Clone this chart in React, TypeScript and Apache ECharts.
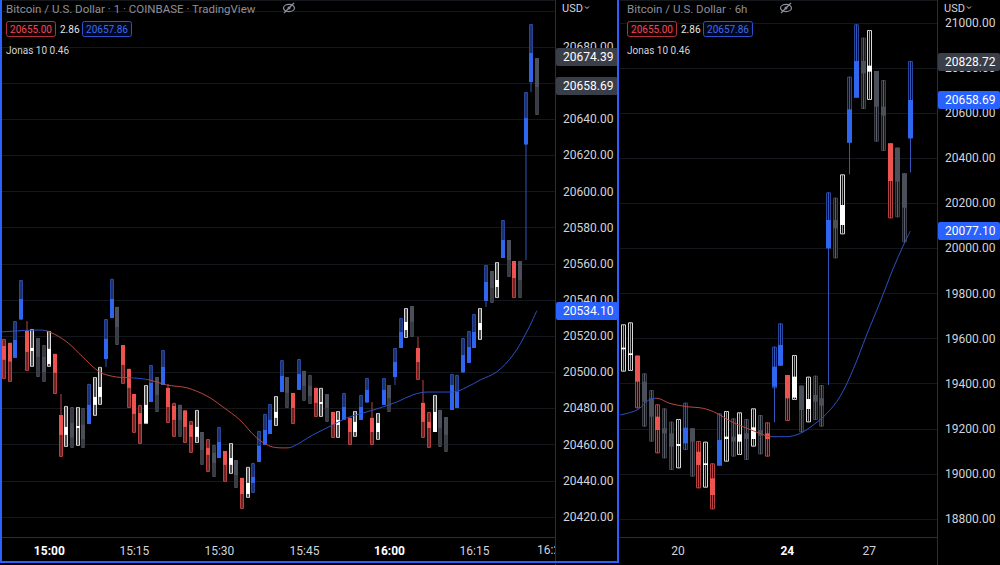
import React, { useEffect, useRef } from "react";
import * as echarts from "echarts";

// ---------------- data ----------------
// Left panel: 1-minute candles, first candle at 14:52 (minute of day 892)
const leftStartMinute = 892;
// [open, close, low, high]  (box = low..high, filled body = open..close)
const leftCandles: number[][] = [
  [20514.6, 20506.9, 20496.3, 20518.5], [20516.3, 20506.0, 20494.7, 20516.3], [20517.9, 20508.0, 20508.0, 20528.4],
  [20540.6, 20529.5, 20529.0, 20551.1], [20522.9, 20511.3, 20500.8, 20523.4], [20513.5, 20511.8, 20503.0, 20524.0],
  [20519.0, 20508.5, 20497.4, 20519.0], [20508.5, 20500.2, 20494.7, 20515.1], [20513.0, 20504.6, 20503.0, 20522.9],
  [20510.2, 20499.7, 20488.0, 20510.2], [20476.4, 20465.4, 20453.2, 20476.4], [20469.8, 20465.4, 20458.7, 20481.4],
  [20472.0, 20464.0, 20458.2, 20480.8], [20470.3, 20469.2, 20459.3, 20480.8], [20471.0, 20463.0, 20458.2, 20480.3],
  [20482.0, 20471.4, 20471.4, 20493.6], [20486.4, 20482.0, 20475.9, 20497.4], [20491.9, 20486.4, 20482.0, 20503.0],
  [20518.5, 20507.4, 20507.4, 20529.5], [20540.6, 20530.1, 20530.1, 20551.7], [20536.2, 20525.1, 20515.1, 20536.2],
  [20515.1, 20504.1, 20493.6, 20515.1], [20501.9, 20491.4, 20480.3, 20501.9], [20488.0, 20477.0, 20466.5, 20488.0],
  [20477.5, 20471.4, 20460.4, 20482.0], [20482.0, 20472.0, 20471.4, 20493.0], [20494.1, 20483.6, 20483.6, 20504.1],
  [20497.4, 20487.5, 20478.1, 20497.4], [20503.0, 20493.0, 20493.0, 20512.4], [20491.4, 20480.8, 20472.0, 20491.4],
  [20481.4, 20473.7, 20464.3, 20483.1], [20482.0, 20473.7, 20464.3, 20482.0], [20478.6, 20469.8, 20460.9, 20479.2],
  [20470.9, 20464.3, 20455.4, 20473.1], [20469.8, 20464.3, 20460.9, 20479.2], [20467.0, 20457.0, 20448.8, 20467.0],
  [20458.2, 20454.3, 20444.9, 20463.1], [20455.4, 20449.9, 20442.1, 20459.8], [20461.5, 20452.6, 20452.6, 20469.8],
  [20456.5, 20448.8, 20439.4, 20456.5], [20452.6, 20448.8, 20443.8, 20460.9], [20451.5, 20443.2, 20436.0, 20451.5],
  [20441.6, 20432.7, 20424.4, 20441.6], [20438.8, 20432.7, 20430.5, 20447.7], [20442.1, 20438.8, 20433.3, 20449.9],
  [20459.3, 20450.4, 20450.4, 20467.6], [20468.1, 20459.8, 20459.8, 20477.0], [20473.7, 20465.9, 20465.9, 20482.5],
  [20478.1, 20474.8, 20470.3, 20486.9], [20498.0, 20489.1, 20489.1, 20506.8], [20497.4, 20488.6, 20480.3, 20497.4],
  [20488.6, 20480.3, 20471.4, 20488.6], [20499.1, 20490.3, 20490.3, 20507.4], [20500.8, 20492.5, 20484.2, 20500.8],
  [20492.5, 20487.0, 20482.5, 20498.6], [20491.4, 20483.1, 20475.3, 20491.4], [20483.6, 20482.5, 20475.3, 20491.4],
  [20488.0, 20480.3, 20472.6, 20488.0], [20478.1, 20470.9, 20463.7, 20478.1], [20473.7, 20470.9, 20463.7, 20478.6],
  [20480.8, 20473.7, 20473.7, 20488.6], [20474.8, 20467.0, 20459.8, 20474.8], [20472.6, 20467.0, 20464.3, 20478.6],
  [20480.8, 20473.7, 20473.7, 20487.5], [20490.3, 20483.6, 20483.1, 20496.9], [20474.8, 20467.0, 20459.8, 20474.8],
  [20472.0, 20467.0, 20462.6, 20477.5], [20490.3, 20482.0, 20482.0, 20496.9], [20493.0, 20485.8, 20478.1, 20493.0],
  [20505.7, 20497.4, 20497.4, 20513.5], [20522.3, 20513.5, 20513.5, 20530.1], [20527.9, 20523.4, 20519.0, 20535.6],
  [20536.7, 20527.9, 20519.6, 20536.7], [20513.5, 20505.7, 20495.8, 20513.5], [20483.1, 20472.6, 20463.7, 20483.1],
  [20472.6, 20469.2, 20458.2, 20478.1], [20478.1, 20467.0, 20467.0, 20487.5], [20479.2, 20469.2, 20458.7, 20479.2],
  [20475.3, 20465.4, 20456.0, 20475.3], [20493.0, 20479.2, 20479.2, 20499.1], [20489.1, 20480.3, 20480.3, 20498.6],
  [20509.6, 20500.2, 20499.7, 20519.0], [20514.0, 20505.2, 20505.2, 20522.9], [20522.3, 20513.5, 20513.5, 20532.3],
  [20527.3, 20523.4, 20517.9, 20535.6], [20550.0, 20539.5, 20539.5, 20559.4], [20556.1, 20546.7, 20538.4, 20556.1],
  [20551.1, 20547.2, 20541.1, 20561.0], [20573.2, 20563.3, 20563.3, 20584.3], [20573.2, 20562.2, 20552.8, 20573.2],
  [20561.6, 20552.2, 20541.1, 20561.6], [20561.6, 20551.1, 20541.1, 20561.6], [20640.7, 20626.3, 20625.8, 20655.1],
  [20676.7, 20660.6, 20660.6, 20692.7], [20673.9, 20657.9, 20642.4, 20673.9],
];
const leftKinds = ("rrbbrwggwr" + "rwgwgbwwbb" + "grrrrwbgbr" + "rgrrwgrgbr" + "wgrwbbbbwb" +
  "grbggrwgrw" + "brwbbrwbgb" + "bwgrrrwggb" + "bbbbwbgwbg" + "rgbbg").split("");
// [candle index, wick tip price outside the box]
const leftWickTips: number[][] = [
  [4, 20528.4], [10, 20488.0], [18, 20503.0], [29, 20493.6], [65, 20483.6], [69, 20493.0],
  [73, 20519.6], [74, 20495.8], [85, 20536.2], [92, 20562.2], [93, 20655.1],
];
const leftMaMinutes = [891.3, 898.35, 900.1, 903.1, 905.9, 908.9, 911.9, 914.8, 917.7, 920.7, 924.3, 927.8, 930.6,
  933.6, 936.6, 939.4, 941.6, 942.8, 946.5, 950, 952.5, 955.3, 958.3, 961.3, 964.1, 966.6, 968.9, 971.2, 973.7, 976,
  978.9, 981.8, 984.2, 986];
const leftMaValues = [20522.3, 20523.4, 20522.3, 20516.8, 20508.5, 20500.2, 20497.4, 20496.9, 20495.8, 20493.0,
  20491.4, 20486.9, 20480.9, 20473.7, 20463.7, 20458.7, 20458.2, 20458.7, 20465.4, 20470.9, 20474.8, 20477.5,
  20480.3, 20483.6, 20487.5, 20489.1, 20489.1, 20489.1, 20491.9, 20495.8, 20500.2, 20509.6, 20522.3, 20534.1];
const leftMaFalling = [[899.5, 914], [917.5, 942.5]];
const leftTimeTicks = [900, 915, 930, 945, 960, 975];
const leftTimeLabels = ["15:00", "15:15", "15:30", "15:45", "16:00", "16:15"];
const leftBoldLabels = ["15:00", "16:00"];
const leftCutLabel = "16:2";
const leftHiddenPrices = [20700, 20660];
const leftPriceTags = [
  { value: 20674.39, tone: "gray" },
  { value: 20658.69, tone: "gray" },
  { value: 20534.1, tone: "blue" },
];

// Right panel: 6-hour candles, first candle on day 18 00:00
const rightStartDay = 18;
const rightStep = 0.25;
const rightCandles: number[][] = [
  [19560.0, 19552.6, 19453.5, 19663.5], [19534.8, 19527.4, 19456.5, 19672.3], [19524.5, 19409.1, 19290.9, 19524.5],
  [19409.1, 19320.4, 19209.5, 19446.1], [19335.2, 19253.9, 19143.0, 19372.2], [19253.9, 19194.8, 19091.3, 19308.6],
  [19202.2, 19180.0, 19069.1, 19290.9], [19180.0, 19120.8, 19017.3, 19231.7], [19132.7, 19123.8, 19024.7, 19243.5],
  [19205.1, 19135.6, 19106.1, 19316.0], [19202.2, 19143.0, 18987.8, 19202.2], [19098.7, 19039.5, 18936.0, 19146.0],
  [19046.9, 19039.5, 18938.9, 19143.0], [18980.4, 18906.5, 18842.9, 19046.9], [19150.4, 19036.6, 19036.6, 19268.7],
  [19165.2, 19154.8, 19054.3, 19279.0], [19165.2, 19143.0, 19076.5, 19246.5], [19175.5, 19143.0, 19083.9, 19273.1],
  [19180.0, 19154.8, 19061.7, 19243.5], [19206.6, 19154.8, 19120.8, 19290.9], [19194.8, 19169.6, 19086.8, 19261.3],
  [19180.0, 19154.8, 19076.5, 19228.8], [19475.7, 19387.0, 19379.6, 19564.4], [19571.8, 19480.1, 19480.1, 19667.9],
  [19438.7, 19335.2, 19234.7, 19438.7], [19431.3, 19338.2, 19327.8, 19527.4], [19391.4, 19283.5, 19184.4, 19391.4],
  [19332.3, 19287.9, 19228.8, 19431.3], [19350.0, 19320.4, 19239.1, 19435.8], [19335.2, 19302.7, 19209.5, 19394.4],
  [20126.2, 20000.5, 20000.5, 20248.9], [20126.2, 20089.3, 19956.2, 20225.3], [20192.8, 20104.0, 20062.6, 20328.8],
  [20617.1, 20469.2, 20469.2, 20762.0], [20831.5, 20668.8, 20668.8, 20994.1], [20831.5, 20776.8, 20618.6, 20935.0],
  [20810.8, 20784.2, 20658.5, 20969.0], [20787.1, 20628.9, 20473.7, 20787.1], [20628.9, 20589.0, 20432.3, 20747.2],
  [20466.3, 20299.2, 20133.6, 20466.3], [20447.1, 20296.2, 20138.1, 20447.1], [20333.2, 20180.9, 20027.2, 20333.2],
  [20658.5, 20488.5, 20488.5, 20831.5],
];
const rightKinds = ("wwrggrggwb" + "grwrbwgwgw" + "grbbrwgwgg" + "bgwbbgwggr" + "ggb").split("");
const rightWickTips: number[][] = [[22, 19228.8], [30, 19394.4], [33, 20328.8], [42, 20337.6]];
const rightMaDays = [17.88, 18.5, 19.1, 19.225, 19.7, 20.325, 20.925, 21.425, 21.9, 22.525, 23, 23.375, 23.975,
  24.475, 24.95, 25.45, 25.925, 26.425, 26.9, 27.4, 27.875, 28.25, 28.5];
const rightMaValues = [19261.3, 19283.5, 19335.2, 19335.2, 19313.0, 19298.3, 19290.9, 19268.7, 19234.7, 19202.2,
  19180.0, 19165.2, 19165.2, 19180.0, 19217.0, 19268.7, 19342.6, 19468.3, 19616.1, 19764.0, 19911.8, 20015.3, 20077.1];
const rightMaFalling = [[19.2, 23.4]];
const rightDayTicks = [20, 24, 27];
const rightDayLabels = ["20", "24", "27"];
const rightBoldLabels = ["24"];
const rightHiddenPrices: number[] = [];
const rightPriceTags = [
  { value: 20828.72, tone: "gray" },
  { value: 20658.69, tone: "blue" },
  { value: 20077.1, tone: "blue" },
];

// ---------------- styling ----------------
const FONT = "Roboto, 'Noto Sans', sans-serif";
const PALETTE: Record<string, { body: string; outline: string; inner: string; wick: string }> = {
  b: { body: "#2f66f0", outline: "#27469a", inner: "#070f26", wick: "#3356b8" },
  r: { body: "#ef5350", outline: "#b63f3f", inner: "#220808", wick: "#b84545" },
  w: { body: "#ffffff", outline: "#d9d9d9", inner: "#040404", wick: "#9a9a9a" },
  g: { body: "#4b4f59", outline: "#3b3e46", inner: "#16181c", wick: "#5b5f69" },
};
const MA_RED = "#b9453e";
const MA_BLUE = "#2a4fc6";
const TAG = { gray: "#3a3e48", blue: "#2962ff" };

function buildCandleData(candles: number[][], tips: number[][], xOf: (i: number) => number) {
  return candles.map((c, i) => {
    let wl = c[2];
    let wh = c[3];
    tips.forEach(([j, p]) => {
      if (j === i) {
        wl = Math.min(wl, p);
        wh = Math.max(wh, p);
      }
    });
    return [xOf(i), c[0], c[1], c[2], c[3], wl, wh];
  });
}

function makeRender(kinds: string[], unit: number, ratio: number) {
  return (params: any, api: any) => {
    const k = PALETTE[kinds[params.dataIndex]] || PALETTE.g;
    const x = api.value(0);
    const pHi = api.coord([x, api.value(4)]);
    const yLo = api.coord([x, api.value(3)])[1];
    const yO = api.coord([x, api.value(1)])[1];
    const yC = api.coord([x, api.value(2)])[1];
    const yWl = api.coord([x, api.value(5)])[1];
    const yWh = api.coord([x, api.value(6)])[1];
    const cx = Math.round(pHi[0]);
    const w = Math.max(3, Math.round(api.size([unit, 0])[0] * ratio));
    const left = cx - Math.floor(w / 2);
    const bTop = Math.min(yO, yC);
    const bBot = Math.max(yO, yC);
    return {
      type: "group",
      children: [
        {
          type: "rect",
          shape: { x: left + 0.5, y: pHi[1] + 0.5, width: w - 1, height: Math.max(1, yLo - pHi[1] - 1) },
          style: { fill: k.inner, stroke: k.outline, lineWidth: 1 },
        },
        {
          type: "line",
          shape: { x1: left + w / 2, y1: yWh, x2: left + w / 2, y2: yWl },
          style: { stroke: k.wick, lineWidth: 1 },
        },
        {
          type: "rect",
          shape: { x: left, y: bTop, width: w, height: Math.max(1.5, bBot - bTop) },
          style: { fill: k.body },
        },
      ],
    };
  };
}

function eyeIcon(x: number, y: number) {
  return {
    type: "group",
    x,
    y,
    z: 100,
    children: [
      { type: "ellipse", shape: { cx: 0, cy: 0, rx: 5.5, ry: 3.6 }, style: { fill: "none", stroke: "#8c8f99", lineWidth: 1.2 } },
      { type: "circle", shape: { cx: 0, cy: 0, r: 1.5 }, style: { fill: "#8c8f99" } },
      { type: "line", shape: { x1: -5, y1: 5, x2: 5, y2: -5 }, style: { stroke: "#8c8f99", lineWidth: 1.2 } },
    ],
  };
}

function headerEls(x0: number, title: string, eyeX: number, usdX: number) {
  const t = (x: number, y: number, text: string, fill: string, size: number, extra: any = {}) => ({
    type: "text",
    x,
    y,
    z: 100,
    style: { text, fill, font: `${extra.weight || "normal"} ${size}px ${FONT}`, verticalAlign: "middle", align: extra.align || "left" },
  });
  return [
    t(x0, 9, title, "#8c8f99", 11.5),
    eyeIcon(eyeX, 8),
    { type: "rect", z: 100, shape: { x: x0 + 0.5, y: 21.5, width: 49, height: 15, r: 2 }, style: { fill: "#0c0405", stroke: "#b3303d", lineWidth: 1 } },
    t(x0 + 25, 29, "20655.00", "#f0475a", 10, { align: "center" }),
    t(x0 + 54, 29, "2.86", "#e6e6e6", 10),
    { type: "rect", z: 100, shape: { x: x0 + 76.5, y: 21.5, width: 49, height: 15, r: 2 }, style: { fill: "#03071a", stroke: "#2a52cf", lineWidth: 1 } },
    t(x0 + 101, 29, "20657.86", "#3a6cf4", 10, { align: "center" }),
    t(x0, 50, "Jonas 10 0.46", "#d1d4dc", 10),
    t(usdX, 8, "USD", "#d1d4dc", 11),
    {
      type: "polyline",
      z: 100,
      shape: { points: [[usdX + 23, 6.5], [usdX + 25, 8.5], [usdX + 27, 6.5]] },
      style: { stroke: "#d1d4dc", lineWidth: 1, fill: "none" },
    },
  ];
}

export default function App() {
  const ref = useRef<HTMLDivElement>(null);

  useEffect(() => {
    if (!ref.current) return;
    const chart = echarts.init(ref.current, null, { renderer: "svg", width: 1000, height: 565 });

    const leftData = buildCandleData(leftCandles, leftWickTips, (i) => leftStartMinute + i);
    const rightData = buildCandleData(rightCandles, rightWickTips, (i) => rightStartDay + i * rightStep);
    const leftMa = leftMaMinutes.map((m, i) => [m, leftMaValues[i]]);
    const rightMa = rightMaDays.map((d, i) => [d, rightMaValues[i]]);

    const pieces = (ranges: number[][]) => {
      const out: any[] = [];
      let prev = -Infinity;
      ranges.forEach(([a, b]) => {
        out.push({ gte: prev, lt: a, color: MA_BLUE });
        out.push({ gte: a, lt: b, color: MA_RED });
        prev = b;
      });
      out.push({ gte: prev, color: MA_BLUE });
      out[0] = { lt: ranges[0][0], color: MA_BLUE };
      return out;
    };

    const splitLine = { show: true, lineStyle: { color: "#14171c", width: 1 } };
    const yLabel = (hidden: number[]) => ({
      color: "#d1d4dc",
      fontSize: 12,
      fontFamily: FONT,
      margin: 8,
      showMinLabel: false,
      showMaxLabel: false,
      formatter: (v: number) => (hidden.some((h) => Math.abs(h - v) < 1e-6) ? "" : v.toFixed(2)),
    });
    const timeLabel = (ticks: number[], labels: string[], bold: string[]) => ({
      color: "#d1d4dc",
      fontSize: 12,
      fontFamily: FONT,
      margin: 8,
      customValues: ticks,
      formatter: (v: number) => {
        const idx = ticks.findIndex((t) => Math.abs(t - v) < 1e-6);
        const s = idx >= 0 ? labels[idx] : "";
        return bold.includes(s) ? `{b|${s}}` : s;
      },
      rich: { b: { fontWeight: "bold", color: "#ffffff", fontSize: 12, fontFamily: FONT } },
    });

    chart.setOption({
      animation: false,
      backgroundColor: "#000000",
      grid: [
        { left: 0, top: 0, width: 555, height: 537, outerBoundsMode: "none", containLabel: false },
        { left: 620, top: 0, width: 317, height: 537, outerBoundsMode: "none", containLabel: false },
      ],
      xAxis: [
        {
          type: "value",
          gridIndex: 0,
          min: 891.3,
          max: 989.2,
          axisLine: { show: true, lineStyle: { color: "#2a2e39" } },
          axisTick: { show: false },
          splitLine: { show: false },
          axisLabel: timeLabel(leftTimeTicks, leftTimeLabels, leftBoldLabels),
        },
        {
          type: "value",
          gridIndex: 1,
          min: 17.88,
          max: 29.475,
          axisLine: { show: true, lineStyle: { color: "#2a2e39" } },
          axisTick: { show: false },
          splitLine: { show: false },
          axisLabel: timeLabel(rightDayTicks, rightDayLabels, rightBoldLabels),
        },
      ],
      yAxis: [
        {
          type: "value",
          gridIndex: 0,
          position: "right",
          min: 20408.9,
          max: 20706,
          splitNumber: 15,
          minInterval: 20,
          maxInterval: 20,
          axisLine: { show: true, lineStyle: { color: "#2a2e39" } },
          axisTick: { show: false },
          splitLine,
          axisLabel: yLabel(leftHiddenPrices),
        },
        {
          type: "value",
          gridIndex: 1,
          position: "right",
          min: 18720.1,
          max: 21102,
          splitNumber: 12,
          minInterval: 200,
          maxInterval: 200,
          axisLine: { show: true, lineStyle: { color: "#2a2e39" } },
          axisTick: { show: false },
          splitLine,
          axisLabel: yLabel(rightHiddenPrices),
        },
      ],
      visualMap: [
        { type: "piecewise", show: false, seriesIndex: 1, dimension: 0, pieces: pieces(leftMaFalling) },
        { type: "piecewise", show: false, seriesIndex: 3, dimension: 0, pieces: pieces(rightMaFalling) },
      ],
      series: [
        {
          type: "custom",
          xAxisIndex: 0,
          yAxisIndex: 0,
          clip: true,
          renderItem: makeRender(leftKinds, 1, 0.72),
          encode: { x: 0, y: [1, 2, 3, 4] },
          data: leftData,
          z: 2,
        },
        {
          type: "line",
          xAxisIndex: 0,
          yAxisIndex: 0,
          data: leftMa,
          smooth: 0.35,
          showSymbol: false,
          lineStyle: { width: 1 },
          z: 3,
        },
        {
          type: "custom",
          xAxisIndex: 1,
          yAxisIndex: 1,
          clip: true,
          renderItem: makeRender(rightKinds, rightStep, 0.74),
          encode: { x: 0, y: [1, 2, 3, 4] },
          data: rightData,
          z: 2,
        },
        {
          type: "line",
          xAxisIndex: 1,
          yAxisIndex: 1,
          data: rightMa,
          smooth: 0.35,
          showSymbol: false,
          lineStyle: { width: 1 },
          z: 3,
        },
      ],
    });

    const els: any[] = [];
    els.push(...headerEls(6, "Bitcoin / U.S. Dollar · 1 · COINBASE · TradingView", 289, 562));
    els.push(...headerEls(627, "Bitcoin / U.S. Dollar · 6h", 786, 944));

    const addTags = (yAxisIndex: number, tags: { value: number; tone: string }[], x0: number) => {
      tags.forEach((tg) => {
        const y = chart.convertToPixel({ yAxisIndex } as any, tg.value) as unknown as number;
        els.push({
          type: "rect",
          z: 110,
          shape: { x: x0, y: Math.round(y) - 9, width: 62, height: 18, r: 2 },
          style: { fill: (TAG as any)[tg.tone] },
        });
        els.push({
          type: "text",
          z: 111,
          x: x0 + 7,
          y: Math.round(y),
          style: { text: tg.value.toFixed(2), fill: "#ffffff", font: `12px ${FONT}`, verticalAlign: "middle" },
        });
      });
    };
    addTags(0, leftPriceTags, 556);
    addTags(1, rightPriceTags, 938);

    // cut-off time label at the right edge of the left time axis
    els.push({ type: "rect", z: 100, shape: { x: 556, y: 538, width: 62, height: 24 }, style: { fill: "#000" } });
    els.push({
      type: "text",
      z: 99,
      x: 537,
      y: 550,
      style: { text: leftCutLabel, fill: "#d1d4dc", font: `12px ${FONT}`, verticalAlign: "middle" },
    });
    // settings gear
    els.push({
      type: "group",
      x: 587,
      y: 549,
      z: 101,
      children: [
        { type: "circle", shape: { cx: 0, cy: 0, r: 3.6 }, style: { fill: "none", stroke: "#9598a1", lineWidth: 1.2 } },
        ...[0, 1, 2, 3, 4, 5, 6, 7].map((j) => {
          const a = (j * Math.PI) / 4;
          return {
            type: "line",
            shape: { x1: Math.cos(a) * 3.6, y1: Math.sin(a) * 3.6, x2: Math.cos(a) * 5.2, y2: Math.sin(a) * 5.2 },
            style: { stroke: "#9598a1", lineWidth: 1.2 },
          };
        }),
      ],
    });
    // separators
    els.push({ type: "line", z: 100, shape: { x1: 555.5, y1: 537, x2: 555.5, y2: 565 }, style: { stroke: "#2a2e39", lineWidth: 1 } });
    els.push({ type: "line", z: 100, shape: { x1: 937.5, y1: 537, x2: 937.5, y2: 565 }, style: { stroke: "#2a2e39", lineWidth: 1 } });
    // selection frame of left pane
    els.push({
      type: "polyline",
      z: 120,
      shape: { points: [[1, 0], [1, 562], [618, 562], [618, 0]] },
      style: { stroke: "#2962ff", lineWidth: 2, fill: "none" },
    });

    chart.setOption({ graphic: { elements: els } });

    return () => chart.dispose();
  }, []);

  return (
    <div
      ref={ref}
      style={{ position: "fixed", left: 0, top: 0, width: 1000, height: 565, background: "#000" }}
    />
  );
}
